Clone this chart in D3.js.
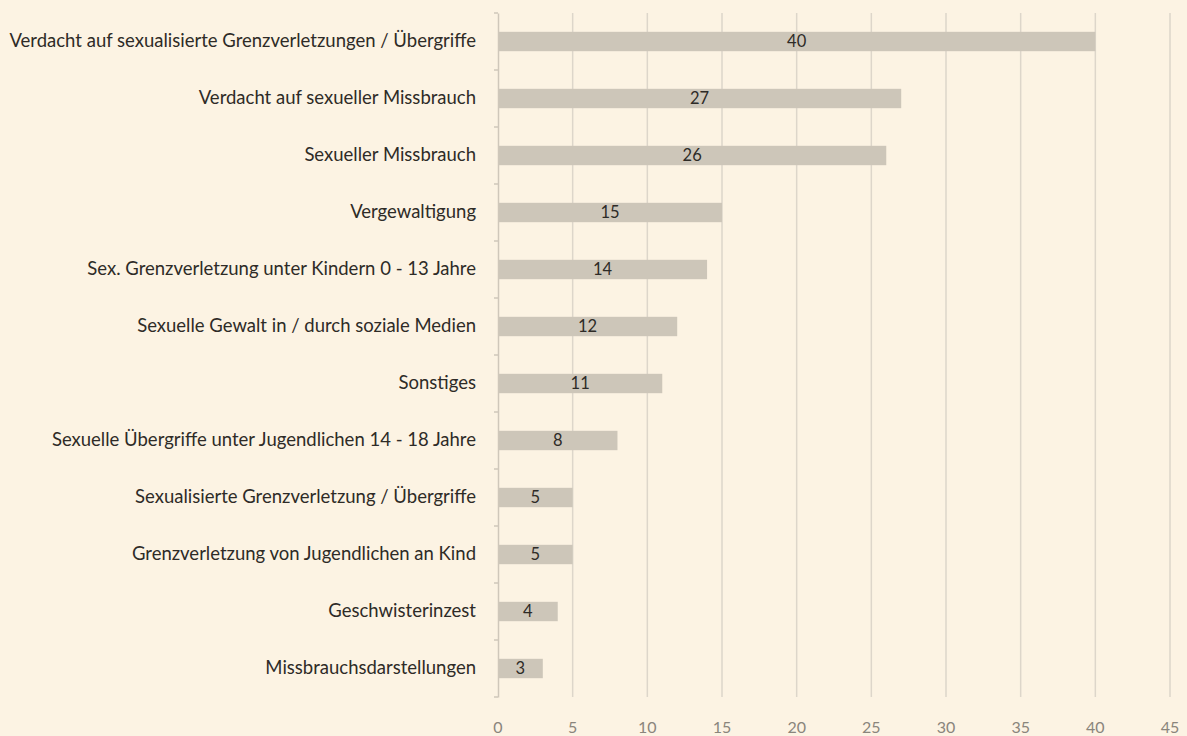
<!DOCTYPE html>
<html>
<head>
<meta charset="utf-8">
<script src="https://cdn.jsdelivr.net/npm/d3@7"></script>
<style>
  body { margin: 0; background: #fcf3e3; }
  svg { display: block; }
</style>
</head>
<body>
<script>
// categories, top to bottom
const categories = [
    "Verdacht auf sexualisierte Grenzverletzungen / Übergriffe",
    "Verdacht auf sexueller Missbrauch",
    "Sexueller Missbrauch",
    "Vergewaltigung",
    "Sex. Grenzverletzung unter Kindern 0 - 13 Jahre",
    "Sexuelle Gewalt in / durch soziale Medien",
    "Sonstiges",
    "Sexuelle Übergriffe unter Jugendlichen 14 - 18 Jahre",
    "Sexualisierte Grenzverletzung / Übergriffe",
    "Grenzverletzung von Jugendlichen an Kind",
    "Geschwisterinzest",
    "Missbrauchsdarstellungen"
];
const values = [40, 27, 26, 15, 14, 12, 11, 8, 5, 5, 4, 3];
const x_ticks = [0, 5, 10, 15, 20, 25, 30, 35, 40, 45];

let width = 1187;
let height = 736;
let padding = {
    top: 13,
    bottom: 39,
    left: 498,
    right: 17
}

let svg = d3.select("body").append("svg")
    .attr("width", width)
    .attr("height", height)
    .style("background", "#fcf3e3");

let x = d3.scaleLinear()
    .domain([0, 45])
    .range([padding.left, width - padding.right]);

let y = d3.scaleBand()
    .domain(categories)
    .range([padding.top, height - padding.bottom])
    .paddingInner(0.66)
    .paddingOuter(0.33);

// vertical grid lines
svg.append("g")
    .selectAll("line")
    .data(x_ticks.slice(1))
    .join("line")
    .attr("x1", d => x(d))
    .attr("x2", d => x(d))
    .attr("y1", padding.top)
    .attr("y2", height - padding.bottom)
    .attr("stroke", "#ddd6ca")
    .attr("stroke-width", 1.5);

// bars
svg.append("g")
    .selectAll("rect")
    .data(values)
    .join("rect")
    .attr("x", x(0))
    .attr("y", (d, i) => y(categories[i]))
    .attr("width", d => x(d) - x(0))
    .attr("height", y.bandwidth())
    .attr("fill", "#cdc6b9");

// value labels inside the bars
svg.append("g")
    .selectAll("text")
    .data(values)
    .join("text")
    .attr("x", d => x(d / 2))
    .attr("y", (d, i) => y(categories[i]) + y.bandwidth() / 2)
    .attr("dy", "0.36em")
    .attr("text-anchor", "middle")
    .style("font-family", "Lato, sans-serif")
    .style("font-size", "16.5px")
    .style("fill", "#2e2b27")
    .text(d => d);

// y axis with small ticks between categories
let y_axis = d3.axisLeft(y).tickSize(0).tickPadding(22);
let gy = svg.append("g")
    .attr("transform", `translate(${x(0)},0)`)
    .call(y_axis);
gy.select(".domain")
    .attr("stroke", "#cfc7ba")
    .attr("stroke-width", 1.5);
gy.selectAll("text")
    .style("font-family", "Lato, sans-serif")
    .style("font-size", "18.5px")
    .style("fill", "#2e2b27");

let step = y.step();
svg.append("g")
    .selectAll("line")
    .data(d3.range(categories.length + 1))
    .join("line")
    .attr("x1", x(0) - 4)
    .attr("x2", x(0))
    .attr("y1", i => padding.top + i * step)
    .attr("y2", i => padding.top + i * step)
    .attr("stroke", "#cfc7ba")
    .attr("stroke-width", 1.5);

// x tick labels
svg.append("g")
    .selectAll("text")
    .data(x_ticks)
    .join("text")
    .attr("x", d => x(d))
    .attr("y", height - 3)
    .attr("text-anchor", "middle")
    .style("font-family", "Lato, sans-serif")
    .style("font-size", "16px")
    .style("fill", "#8a857c")
    .text(d => d);
</script>
</body>
</html>
